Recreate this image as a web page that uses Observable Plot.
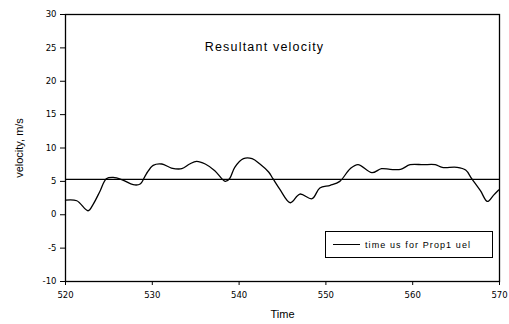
<!DOCTYPE html>
<html><head><meta charset="utf-8">
<script src="https://cdn.jsdelivr.net/npm/d3@7"></script>
<script src="https://cdn.jsdelivr.net/npm/@observablehq/plot@0.6"></script>
<style>
body{margin:0;background:#fff;}
#wrap{position:relative;width:509px;height:324px;font-family:"Liberation Sans",Arial,sans-serif;}
#legend{position:absolute;left:325px;top:231px;width:168px;height:27px;border:1.5px solid #000;background:#fff;box-sizing:border-box;display:flex;align-items:center;font-size:9px;letter-spacing:1.1px;}
#legend .sw{width:27px;border-top:1.2px solid #000;margin:0 5px 0 7px;}
</style></head>
<body><div id="wrap"></div>
<script>
const time = [520,521.3,522.6,523.2,524,524.7,525.5,526.6,527.8,528.6,529.3,530.1,531.1,532.2,533.4,534.3,535.1,536.1,537.2,538.4,538.9,539.5,540.5,541.5,542.4,543.4,543.9,544.7,545.9,547,548.4,549.3,550.5,551.6,552.8,553.7,555.3,556.4,557.4,558.6,559.7,561.2,562.6,563.4,565.1,566.1,566.8,567.8,568.6,569.3,569.9];
const velocity = [2.2,2.1,0.6,1.6,3.6,5.4,5.6,5.2,4.5,4.6,6.1,7.4,7.6,7.0,6.9,7.6,8.0,7.6,6.6,5.0,5.4,7.1,8.4,8.4,7.6,6.4,5.4,3.8,1.8,3.1,2.4,4.0,4.4,5.0,6.9,7.5,6.3,6.9,6.8,6.8,7.5,7.5,7.5,7.1,7.1,6.7,5.4,3.6,2.0,2.9,3.7];
const refLevel = [5.3];
const xTicks = [520,530,540,550,560,570];
const yTicks = [-10,-5,0,5,10,15,20,25,30];
const data = time.map((t,i)=>({t, v: velocity[i]}));

const chart = Plot.plot({
  width: 509, height: 324,
  marginLeft: 65, marginRight: 10, marginTop: 14, marginBottom: 43,
  style: {fontFamily: '"DejaVu Sans", sans-serif', fontSize: "8.5px", background: "#fff", color: "#000"},
  x: {domain: [520,570], ticks: xTicks, tickSize: 4, tickPadding: 6, label: "Time", labelAnchor: "center", labelArrow: "none", labelOffset: 36},
  y: {domain: [-10,30], ticks: yTicks, tickSize: 5, tickPadding: 4, tickFormat: d => String(d), label: "velocity, m/s", labelAnchor: "center", labelArrow: "none", labelOffset: 50},
  marks: [
    Plot.frame({stroke: "#000", strokeWidth: 1.3}),
    Plot.ruleY(refLevel, {stroke: "#000", strokeWidth: 1.2}),
    Plot.line(data, {x: "t", y: "v", stroke: "#000", strokeWidth: 1.3, curve: "catmull-rom"}),
    Plot.text(["Resultant velocity"], {frameAnchor: "top", dx: -18, dy: 28, fontSize: 12.5, fill: "#000", fontFamily: '"Liberation Sans", Arial, sans-serif'})
  ]
});
chart.querySelectorAll('[aria-label="x-axis label"] text, [aria-label="y-axis label"] text').forEach(t=>{t.setAttribute("font-size","11px");t.setAttribute("font-family",'"Liberation Sans", Arial, sans-serif');});
chart.querySelectorAll('[aria-label="text"] text').forEach(t=>t.setAttribute("letter-spacing","1.2px"));
const wrap = document.getElementById("wrap");
wrap.appendChild(chart);
const lg = document.createElement("div");
lg.id = "legend";
lg.innerHTML = '<span class="sw"></span><span>time us for Prop1 uel</span>';
wrap.appendChild(lg);
</script></body></html>
